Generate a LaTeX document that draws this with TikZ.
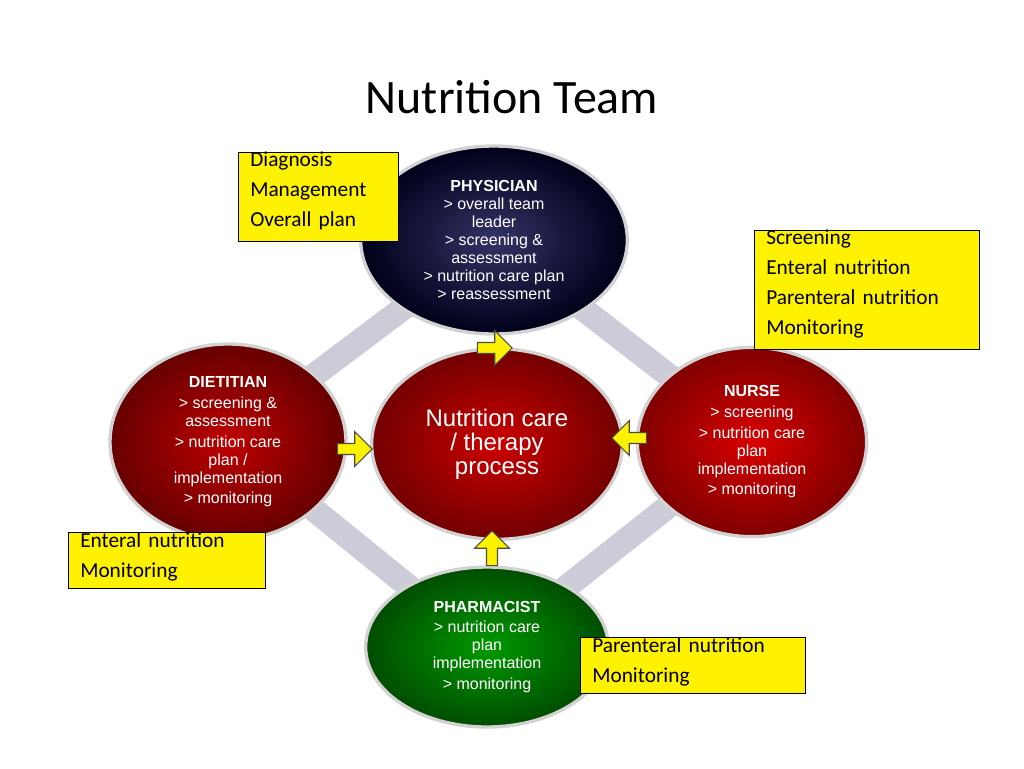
\documentclass[tikz,border=0pt]{standalone}
\usepackage{fontspec}
\setmainfont{Carlito}
\newfontfamily\arialfont{Liberation Sans}
\usetikzlibrary{shapes.geometric,shapes.arrows}
\begin{document}
\begin{tikzpicture}[x=0.75pt,y=-0.75pt]
\tikzset{
  role/.style={ellipse,inner sep=0pt,draw=gray!35,line width=2.5pt,text=white,
    align=center,font=\arialfont\fontsize{12}{13.5}\selectfont},
  note/.style={draw=black,fill=yellow,anchor=north west,align=left,inner sep=0pt,
    text width=#1,font=\fontsize{16}{22.5}\selectfont},
  pointer/.style={single arrow,draw=black!70,fill=yellow,line width=0.8pt,
    minimum height=26pt,minimum width=26pt,single arrow head extend=3pt,inner sep=1pt,
    shape border rotate=#1},
  ring/.style={line width=18pt,color=blue!15!gray!35}
}
\useasboundingbox (0,0) rectangle (1024,768);
\fill[white] (0,0) rectangle (1024,768);
\node (title) at (512,97) {\fontsize{36}{40}\selectfont Nutrition Team};
% ring between the roles
\coordinate (cP) at (494,240);
\coordinate (cN) at (752,440);
\coordinate (cF) at (487,650);
\coordinate (cD) at (228,440);
\draw[ring] (cP) -- (cN) -- (cF) -- (cD) -- cycle;
% roles
\node[role,minimum width=200pt,minimum height=141pt,inner color=blue!25!black!80,outer color=black!90!blue]
  (phys) at (494,240) {\textbf{PHYSICIAN}\\ \textgreater{} overall team\\ leader\\ \textgreater{} screening \&\\ assessment\\ \textgreater{} nutrition care plan\\ \textgreater{} reassessment};
\node[role,minimum width=177pt,minimum height=147pt,inner color=red!75!black,outer color=red!40!black]
  (diet) at (228,442) {\textbf{DIETITIAN}\\[2pt] \textgreater{} screening \&\\ assessment\\[2pt] \textgreater{} nutrition care\\ plan /\\ implementation\\[2pt] \textgreater{} monitoring};
\node[role,minimum width=172pt,minimum height=142pt,inner color=red!85!black,outer color=red!50!black]
  (nurse) at (752,442) {\textbf{NURSE}\\[2pt] \textgreater{} screening\\[2pt] \textgreater{} nutrition care\\ plan\\ implementation\\[2pt] \textgreater{} monitoring};
\node[role,minimum width=182pt,minimum height=120pt,inner color=green!60!black,outer color=green!30!black]
  (pharm) at (487,647) {\textbf{PHARMACIST}\\[2pt] \textgreater{} nutrition care\\ plan\\ implementation\\[2pt] \textgreater{} monitoring};
\node[role,minimum width=188pt,minimum height=143pt,inner color=red!80!black,outer color=red!45!black,
  font=\arialfont\fontsize{18}{18}\selectfont]
  (proc) at (497,444) {Nutrition care\\ / therapy\\ process};
% arrows into the process
\node[pointer=-90] (aP) at (492,348) {};
\node[pointer=0] (aD) at (352,449) {};
\node[pointer=180] (aN) at (632,438) {};
\node[pointer=90] (aF) at (492,551) {};
% notes
\node[note=120pt] (nP) at (238,152) {\hspace{9pt}Diagnosis\\ \hspace{9pt}Management\\ \hspace{9pt}Overall plan\vspace{8pt}};
\node[note=169pt] (nN) at (754,230) {\hspace{9pt}Screening\\ \hspace{9pt}Enteral nutrition\\ \hspace{9pt}Parenteral nutrition\\ \hspace{9pt}Monitoring\vspace{8pt}};
\node[note=148pt] (nD) at (68,532) {\hspace{9pt}Enteral nutrition\\ \hspace{9pt}Monitoring\vspace{6pt}};
\node[note=169pt] (nF) at (580,637) {\hspace{9pt}Parenteral nutrition\\ \hspace{9pt}Monitoring\vspace{6pt}};
\end{tikzpicture}
\end{document}
